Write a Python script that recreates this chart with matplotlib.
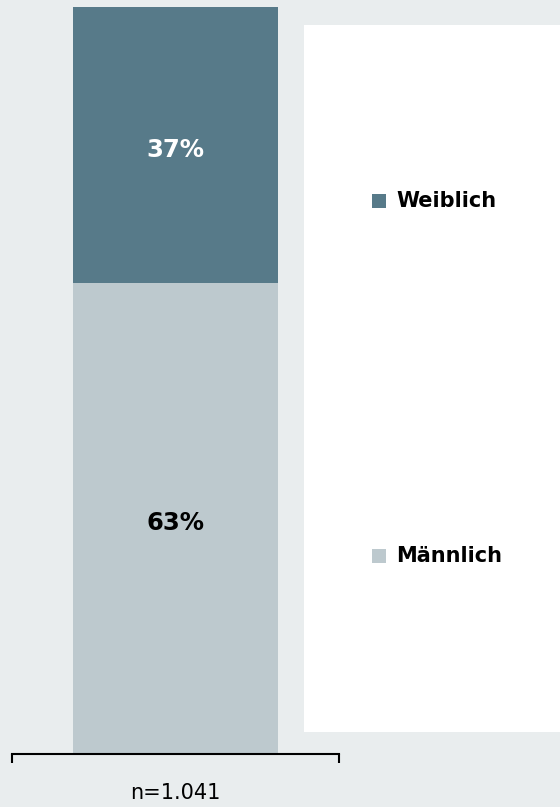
import matplotlib.pyplot as plt
from matplotlib.patches import Rectangle

# Daten
kategorien = ['Männlich', 'Weiblich']
anteile = [63, 37]
farben = ['#bdc9ce', '#577a89']
label_farben = ['black', 'white']
n_text = 'n=1.041'

bg = '#e9edee'
fig = plt.figure(figsize=(5.6, 8.07), dpi=100, facecolor=bg)
W, H = 560, 807

# Hauptachse (Balken)
ax = fig.add_axes([12 / W, 1 - 754 / H, 327 / W, 747 / H])
ax.set_facecolor(bg)

unten = 0
for kat, wert, farbe, lf in zip(kategorien, anteile, farben, label_farben):
    ax.bar(0, wert, width=1.0, bottom=unten, color=farbe, zorder=2)
    ax.text(0, unten + wert / 2 - 0.6, f'{wert}%', ha='center', va='center',
            color=lf, fontsize=17.5, fontweight='bold', zorder=3)
    unten += wert

ax.set_xlim(-0.8, 0.8)
ax.set_ylim(0, 100)
for s in ['top', 'right', 'left']:
    ax.spines[s].set_visible(False)
ax.spines['bottom'].set_linewidth(1.5)
ax.set_yticks([])
ax.set_xticks([-0.8, 0.8])
ax.set_xticklabels(['', ''])
ax.tick_params(axis='x', direction='out', length=6.5, width=1.5)
ax.set_xlabel(n_text, fontsize=15, labelpad=11)

# Legende (weißer Kasten)
fig.patches.append(Rectangle((304 / W, 1 - 732 / H), 256 / W, 707 / H,
                             transform=fig.transFigure, facecolor='white',
                             edgecolor='none', zorder=0))
legende_y = {'Weiblich': 201, 'Männlich': 556}
for kat, farbe in zip(kategorien, farben):
    y = legende_y[kat]
    fig.patches.append(Rectangle((372 / W, 1 - (y + 7) / H), 14 / W, 14 / H,
                                 transform=fig.transFigure, facecolor=farbe,
                                 edgecolor='none', zorder=1))
    fig.text(396 / W, 1 - y / H, kat, ha='left', va='center',
             fontsize=15, fontweight='bold', color='black')

fig.savefig('out.png', dpi=100, facecolor=bg)
